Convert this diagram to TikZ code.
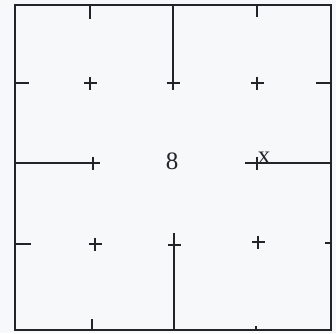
\documentclass[tikz,border=0pt]{standalone}
\usepackage{fontspec}
\setmainfont{Liberation Serif}
\definecolor{ink}{HTML}{222428}
\definecolor{paper}{HTML}{F6F8FA}
\begin{document}
\begin{tikzpicture}[x=1pt, y=-1pt,
  wall/.style={draw=ink, line width=2pt},
  tick/.style={draw=ink, line width=1.8pt},
  plus/.style={draw=ink, line width=1.8pt},
  label/.style={text=ink, inner sep=0pt}]
\fill[paper] (0,0) rectangle (336,333);
\useasboundingbox (0,0) rectangle (336,333);
% grid points
\coordinate (p11) at (90,83);
\coordinate (p12) at (173,83);
\coordinate (p13) at (257,83);
\coordinate (p21) at (93,163);
\coordinate (p23) at (257,163);
\coordinate (p31) at (95,244);
\coordinate (p32) at (174,245);
\coordinate (p33) at (258,242);
% outer frame
\draw[wall] (15,5) rectangle (331,330);
% inner walls
\draw[wall] (173,5) -- (p12) -- ++(0,7);
\draw[wall] (174,330) -- (p32) -- ++(0,-12);
\draw[wall] (15,163) -- (p21) -- ++(5,0);
\draw[wall] (331,163) -- (p23) -- ++(-12,0);
% border ticks
\draw[tick] (90,5) -- ++(0,14);
\draw[tick] (257,5) -- ++(0,12);
\draw[tick] (15,83) -- ++(14,0);
\draw[tick] (15,244) -- ++(16,0);
\draw[tick] (331,83) -- ++(-15,0);
\draw[tick] (331,243) -- ++(-6,0);
\draw[tick] (92,330) -- ++(0,-11);
\draw[tick] (256,330) -- ++(0,-4);
% plus marks
\foreach \p in {p11,p12,p13,p21,p23,p31,p32,p33}
  \draw[plus] (\p) ++(-6.5,0) -- ++(13,0) (\p) ++(0,-6.5) -- ++(0,13);
% labels
\node[label, font=\fontsize{25}{28}\selectfont] (eight) at (172,161) {8};
\node[label, font=\fontsize{25}{28}\selectfont, anchor=base] (cross) at (264,163) {x};
\end{tikzpicture}
\end{document}
